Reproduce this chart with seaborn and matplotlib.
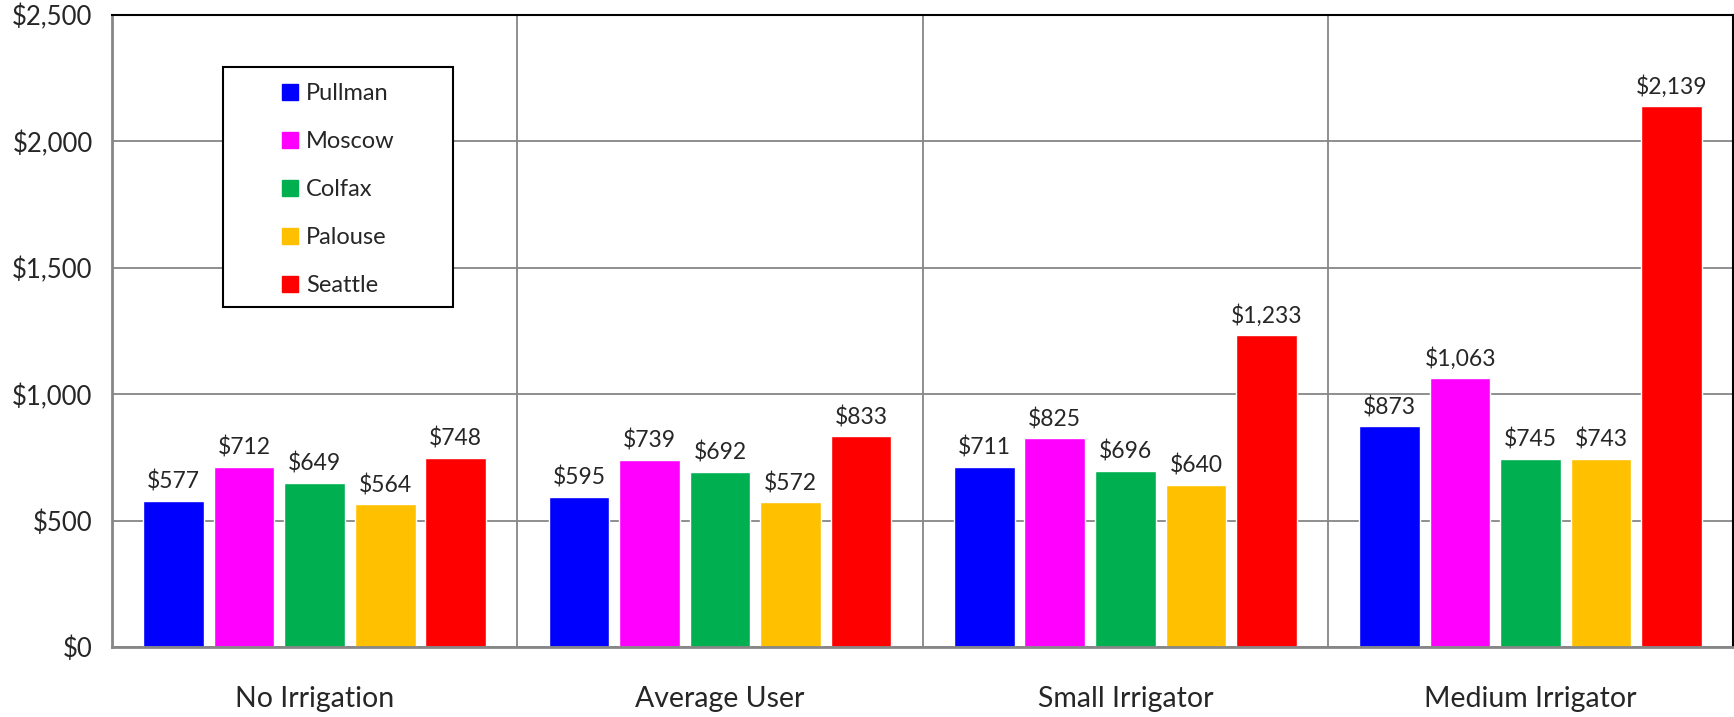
import pandas as pd
import matplotlib.pyplot as plt
import seaborn as sns
from matplotlib.lines import Line2D
from matplotlib.patches import Rectangle
from matplotlib.ticker import FuncFormatter, FixedLocator

categories = ['No Irrigation', 'Average User', 'Small Irrigator', 'Medium Irrigator']
cities = ['Pullman', 'Moscow', 'Colfax', 'Palouse', 'Seattle']
pullman = [577, 595, 711, 873]
moscow = [712, 739, 825, 1063]
colfax = [649, 692, 696, 745]
palouse = [564, 572, 640, 743]
seattle = [748, 833, 1233, 2139]
colors = ['#0000FF', '#FF00FF', '#00B050', '#FFC000', '#FF0000']

rows = []
for city, vals in zip(cities, [pullman, moscow, colfax, palouse, seattle]):
    for cat, v in zip(categories, vals):
        rows.append({'User': cat, 'City': city, 'Cost': v})
df = pd.DataFrame(rows)

sns.set_style('white')
plt.rcParams['font.family'] = ['Lato', 'DejaVu Sans']

fig = plt.figure(figsize=(17.34, 7.17), dpi=100)
ax = fig.add_axes([0.0646, 0.0976, 0.935, 0.8814])

sns.barplot(data=df, x='User', y='Cost', hue='City', palette=colors,
            width=0.87, gap=0.14, saturation=1, legend=False, ax=ax)

for cont in ax.containers:
    ax.bar_label(cont, labels=['${:,.0f}'.format(b.get_height()) for b in cont],
                 padding=6, fontsize=16.5)

ax.set_ylim(0, 2500)
ax.set_xlim(-0.5, 3.5)
ax.set_yticks(range(0, 2501, 500))
ax.yaxis.set_major_formatter(FuncFormatter(lambda v, p: '${:,.0f}'.format(v)))
ax.xaxis.set_minor_locator(FixedLocator([-0.5, 0.5, 1.5, 2.5, 3.5]))
ax.tick_params(axis='x', which='major', length=0, labelsize=20.5, pad=28)
ax.tick_params(axis='x', which='minor', length=10, width=2, color='#868686', direction='out')
ax.tick_params(axis='y', length=10, width=2, color='#868686', direction='out', labelsize=18.5, pad=4)
ax.set_xlabel('')
ax.set_ylabel('')

ax.grid(True, axis='y', color='#868686', lw=1.3)
ax.grid(True, axis='x', which='minor', color='#868686', lw=1.3)
ax.set_axisbelow(True)

for s in ['left', 'bottom']:
    ax.spines[s].set_color('#868686')
    ax.spines[s].set_linewidth(2)
for s in ['top', 'right']:
    ax.spines[s].set_color('black')
    ax.spines[s].set_linewidth(1.5)

# legend box drawn as a patch, entries as a frameless legend inside it
ax.add_patch(Rectangle((0.0685, 0.538), 0.1419, 0.380, transform=ax.transAxes,
                       facecolor='white', edgecolor='black', lw=1.5, zorder=5))
handles = [Line2D([], [], marker='s', color=c, ls='', markersize=11) for c in colors]
leg = ax.legend(handles, cities, loc='upper left', bbox_to_anchor=(0.106, 0.892),
                fontsize=17, frameon=False, labelspacing=1.14,
                borderpad=0, handlelength=0.5, handletextpad=0.45, borderaxespad=0)
leg.set_zorder(6)

fig.savefig('out.png', dpi=100)
